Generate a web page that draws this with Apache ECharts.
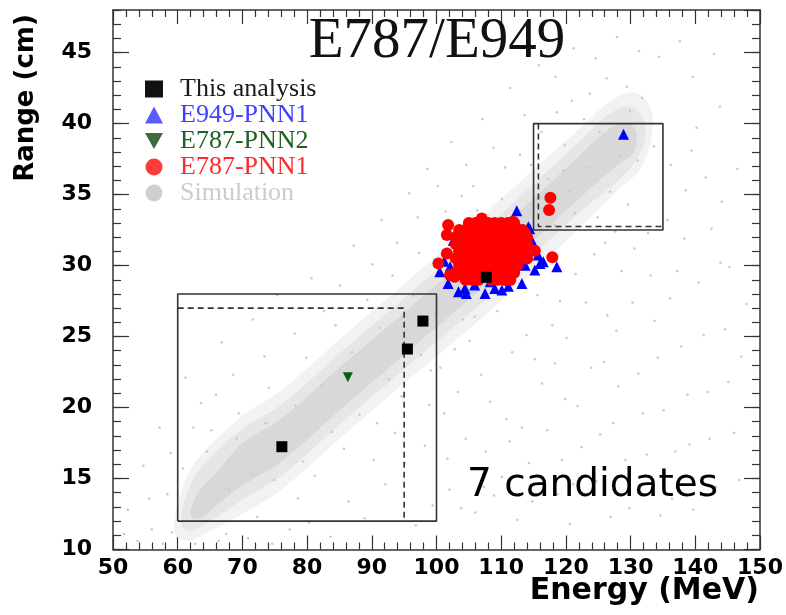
<!DOCTYPE html>
<html>
<head>
<meta charset="utf-8">
<title>E787/E949 Range vs Energy</title>
<script src="https://cdn.jsdelivr.net/npm/echarts@6/dist/echarts.min.js"></script>
<style>
  html, body { margin: 0; padding: 0; background: #fff; }
  #chart { width: 786px; height: 615px; }
</style>
</head>
<body>
<div id="chart"></div>
<script>
  // axis ranges
  var xRange = [50, 150]
  var yRange = [10, 48]

  // candidate events (Energy MeV, Range cm)
  var thisAnalysis = [[76.1, 17.24], [95.5, 24.12], [97.9, 26.09], [107.7, 29.17]]
  var e787pnn2 = [[86.3, 22.13]]
  var e949pnn1 = [
    [128.9, 39.24], [112.4, 33.86], [118.6, 29.92], [116.0, 30.15], [115.7, 30.74],
    [114.7, 31.79], [114.4, 32.6], [100.5, 29.56], [101.8, 28.74], [103.4, 28.16],
    [104.6, 28.04], [107.5, 28.04], [109.0, 28.39], [111.1, 28.55], [102.1, 29.92],
    [113.7, 30.03], [105.9, 28.63], [112.6, 32.85], [114.2, 32.73], [102.6, 31.79],
    [104.4, 28.39], [108.3, 28.86], [115.2, 29.68], [116.5, 30.27], [103.1, 30.85],
    [110.1, 28.27], [113.2, 28.74], [115.0, 31.3], [101.2, 30.3]
  ]
  // outliers around the blob
  var e787pnn1Edge = [
    [117.6, 34.77], [117.4, 33.91], [117.9, 30.58],
    [107.0, 33.32], [101.8, 32.85], [101.6, 32.15], [103.3, 31.61], [101.6, 30.85],
    [100.3, 30.15], [111.8, 33.08], [113.7, 32.26], [115.2, 31.04], [111.4, 28.98],
    [102.8, 29.21], [104.9, 32.38], [109.3, 32.62], [102.1, 29.33], [110.6, 28.98]
  ]
  // densely overlapping core of the blob
  var e787pnn1Core = [
    [105, 33.0], [106, 33.0], [107, 33.0], [108, 33.0], [109, 33.0], [110, 33.0], [111, 33.0], [112, 33.0],
    [103.5, 32.5], [104.5, 32.5], [105.5, 32.5], [106.5, 32.5], [107.5, 32.5], [108.5, 32.5], [109.5, 32.5],
    [110.5, 32.5], [111.5, 32.5], [112.5, 32.5], [113.3, 32.5],
    [103, 32.0], [104, 32.0], [105, 32.0], [106, 32.0], [107, 32.0], [108, 32.0], [109, 32.0], [110, 32.0],
    [111, 32.0], [112, 32.0], [113, 32.0], [114, 32.0],
    [103, 31.5], [104, 31.5], [105, 31.5], [106, 31.5], [107, 31.5], [108, 31.5], [109, 31.5], [110, 31.5],
    [111, 31.5], [112, 31.5], [113, 31.5], [114, 31.5],
    [103.5, 31.0], [104.5, 31.0], [105.5, 31.0], [106.5, 31.0], [107.5, 31.0], [108.5, 31.0], [109.5, 31.0],
    [110.5, 31.0], [111.5, 31.0], [112.5, 31.0], [113.5, 31.0],
    [103, 30.5], [104, 30.5], [105, 30.5], [106, 30.5], [107, 30.5], [108, 30.5], [109, 30.5], [110, 30.5],
    [111, 30.5], [112, 30.5], [113, 30.5], [114, 30.5],
    [103.5, 30.0], [104.5, 30.0], [105.5, 30.0], [106.5, 30.0], [107.5, 30.0], [108.5, 30.0], [109.5, 30.0],
    [110.5, 30.0], [111.5, 30.0], [112.5, 30.0],
    [103, 29.5], [104, 29.5], [105, 29.5], [106, 29.5], [107, 29.5], [108, 29.5], [109, 29.5], [110, 29.5],
    [111, 29.5], [112, 29.5],
    [104.5, 29.0], [105.5, 29.0], [106.5, 29.0], [108.5, 29.0], [109.5, 29.0], [110.5, 29.0]
  ]

  // simulation band outlines (halo, mid, core)
  var simHalo = [[59.5, 11.2], [60.5, 14.0], [63, 16.3], [70, 19.4], [76, 21.2], [86, 25.2], [95, 28.7], [108, 33.9],
    [122, 39.6], [127, 41.6], [130.5, 42.2], [133, 41.2], [133.3, 39.2], [131.5, 36.8], [128, 35.3], [122, 32.6],
    [108, 26.7], [95, 21.7], [86, 18.2], [76, 14.2], [70, 12.5], [65, 11.3], [61.5, 10.6]]
  var simMid = [[60.5, 11.8], [61.8, 14.4], [64, 16.0], [70, 18.5], [76, 20.2], [86, 24.2], [95, 27.7], [108, 32.8],
    [122, 38.7], [126.5, 40.6], [129.8, 41.2], [132, 40.3], [132, 38.5], [129, 36.4], [122, 33.7], [108, 27.8],
    [95, 22.7], [86, 19.2], [76, 15.2], [70, 13.5], [65, 12.0], [62, 11.3]]
  var simCore = [[62, 12.4], [63, 13.9], [66, 15.4], [70, 17.5], [76, 19.2], [86, 23.2], [95, 26.7], [108, 31.8],
    [122, 37.7], [126, 39.4], [129, 40.1], [130.8, 39.5], [130.5, 38.0], [128, 37.1], [122, 34.7], [108, 28.8],
    [95, 23.7], [86, 20.2], [76, 16.2], [70, 14.5], [66, 13.1], [63.5, 12.2]]

  // sparse simulation events
  var simDots = [
    [102, 14.2], [104.5, 17.8], [106, 12.6], [108.3, 20.4], [110.1, 15.1], [111.7, 23.9], [113.2, 18.6], [114.8, 13.4],
    [116.3, 21.7], [117.9, 25.8], [119.4, 16.3], [120.6, 11.8], [121.8, 20.1], [123.1, 27.4], [124.7, 14.8], [125.9, 23.2],
    [127.3, 18.9], [128.6, 29.6], [129.8, 12.9], [131.2, 22.4], [132.5, 16.7], [133.7, 26.1], [135.1, 19.8], [136.4, 13.6],
    [137.8, 24.3], [139.1, 17.4], [140.5, 28.8], [141.9, 21.1], [143.2, 14.4], [144.6, 25.5], [146, 18.2], [103.3, 21.1],
    [105.1, 24.7], [107.6, 16.9], [109.4, 26.8], [112.5, 12.1], [115.6, 27.9], [118.7, 13.9], [120.1, 24.9], [122.4, 17.2],
    [126.4, 26.5], [128.1, 21.5], [130.6, 31.2], [133.1, 29.3], [134.6, 12.4], [138.3, 31.9], [142.5, 32.6], [145.3, 29.9],
    [147.1, 23.6], [101.2, 19.6], [99.4, 13.1], [98.2, 17.3], [100.6, 22.8],
    [56, 11.4], [58.4, 13.9], [60.8, 15.7], [59.1, 11.2], [65.2, 18.4], [67.5, 11.1], [69.4, 19.6], [72.3, 12.3],
    [74.1, 21.4], [78.6, 13.6], [79.9, 23.5], [81.2, 15.2], [84.4, 25.8], [85.7, 17.1], [89.3, 27.6], [90.8, 18.9],
    [93.2, 29.3], [94.6, 20.8], [97.3, 30.9], [99.1, 22.6], [101.4, 33.8], [103.9, 34.9], [105.7, 35.6], [110.6, 36.9],
    [112.9, 37.8], [116.2, 39.4], [118.6, 40.8], [120.9, 41.6], [123.7, 42.1], [126.3, 43.2], [129.4, 42.6], [131.8, 41.8],
    [133.6, 38.4], [136.2, 37.1], [138.5, 35.3], [140.2, 39.7], [135.7, 33.2], [127.6, 32.4], [124.4, 30.8], [121.5, 29.4],
    [119.1, 27.5], [63.6, 20.3], [61.2, 22.1], [66.8, 24.6], [71.6, 26.2], [75.4, 27.9], [80.7, 29.1], [87.2, 31.4],
    [91.5, 33.2], [95.8, 35.1], [98.6, 36.8], [102.3, 38.7], [107.1, 40.3], [111.4, 42.5], [115.8, 44.1], [121.2, 45.3],
    [127.9, 46.1], [134.4, 44.7], [139.6, 43.3], [143.8, 41.2], [146.5, 36.8], [144.1, 34.5], [52.3, 12.8], [54.7, 15.9],
    [57.2, 18.6], [53.8, 10.6], [62.7, 10.4], [70.9, 10.8], [77.3, 11.4], [83.6, 10.9], [88.9, 12.2], [92.1, 14.6],
    [95.1, 16.1], [96.8, 11.7],
    [64.5, 16.9], [67.9, 14.2], [69.1, 17.8], [71.4, 15.3], [73.6, 18.9], [74.9, 14.9], [78.2, 20.1], [79.4, 16.2],
    [82.3, 21.6], [83.8, 18.3], [86.9, 23.9], [88.1, 19.5], [91.2, 25.6], [92.6, 22.0], [96.4, 27.9], [97.6, 23.7],
    [117.3, 36.1], [119.8, 38.5], [121.4, 33.7], [123.6, 36.9], [125.2, 39.4], [126.8, 35.2], [128.3, 37.7], [129.9, 40.9],
    [131.1, 37.4], [120.5, 35.2], [118.2, 32.9], [124.9, 33.4],
    [101.7, 16.4], [103.8, 12.9], [106.9, 22.3], [108.9, 13.8], [110.8, 19.2], [113.9, 25.1], [114.3, 16.1], [117.1, 18.4],
    [118.3, 23.1], [119.9, 20.6], [121.1, 14.6], [123.9, 22.8], [125.3, 18.1], [126.9, 12.3], [127.8, 25.4], [129.2, 16.3],
    [130.3, 27.4], [131.9, 19.6], [133.2, 14.2], [134.2, 23.5], [136.1, 27.7], [136.9, 16.9], [138.8, 20.9], [139.7, 12.8],
    [141.3, 25.1], [142.2, 17.8], [143.9, 30.2], [145.1, 21.8], [146.8, 14.9], [147.9, 27.3], [137.2, 29.6], [132.7, 32.3],
    [139.4, 38.1], [141.6, 36.2], [142.9, 44.9], [137.6, 45.8], [131.3, 45.1], [124.6, 44.6], [118.4, 43.3], [113.6, 40.6],
    [108.8, 38.3], [104.6, 37.1], [100.2, 35.6], [97.1, 33.4], [93.9, 31.6], [90.1, 30.1], [85.1, 28.6], [82.6, 26.8],
    [78.1, 25.2], [73.4, 23.6], [68.6, 22.3], [65.9, 20.9], [62.4, 18.6], [58.9, 16.8], [55.6, 13.6], [51.7, 11.1],
    [57.7, 10.4], [66.3, 10.6], [74.6, 10.4], [80.3, 11.9], [86.4, 13.4], [90.3, 16.3], [93.6, 18.2], [98.9, 20.2],
    [102.8, 24.1], [105.9, 26.4], [107.3, 14.4], [111.3, 17.6], [115.2, 23.4], [116.6, 14.9], [99.8, 26.6], [104.1, 26.2],
    [116.1, 34.8], [119.6, 36.7], [122.8, 40.3], [114.6, 37.1], [110.1, 34.7], [106.3, 33.9], [126.1, 31.6], [129.6, 34.3]
  ]

  // signal boxes
  var pnn2Box = [[60, 12], [100, 12], [100, 28], [60, 28], [60, 12]]
  var pnn2BoxDashed = [[60, 27], [95, 27], [95, 12]]
  var pnn1Box = [[115, 32.5], [135, 32.5], [135, 40], [115, 40], [115, 32.5]]
  var pnn1BoxDashed = [[115.75, 40], [115.75, 32.75], [135, 32.75]]

  var axisColor = '#333'
  var downTriangle = 'path://M0,0L10,0L5,9Z'

  function bandSeries (name, pts, color) {
    return {
      type: 'custom',
      name: name,
      silent: true,
      z: 1,
      data: [pts[0]],
      renderItem: function (params, api) {
        return {
          type: 'polygon',
          shape: { points: pts.map(function (p) { return api.coord(p) }), smooth: 0.35 },
          style: { fill: color }
        }
      }
    }
  }

  function boxSeries (pts, dashed) {
    return {
      type: 'line',
      data: pts,
      symbol: 'none',
      silent: true,
      z: 3,
      lineStyle: { color: axisColor, width: 1.6, type: dashed ? [6, 4] : 'solid' }
    }
  }

  function pointSeries (name, data, symbol, size, color, z) {
    return {
      name: name, type: 'scatter', data: data, symbol: symbol, symbolSize: size,
      itemStyle: { color: color, opacity: 1 }, z: z
    }
  }

  function xAxisDef (pos, showLabel) {
    return {
      type: 'value', position: pos, min: xRange[0], max: xRange[1], interval: 10,
      axisLine: { lineStyle: { color: axisColor, width: 1.5 } },
      axisTick: { inside: true, length: 14, lineStyle: { color: axisColor, width: 1.2 } },
      minorTick: { show: true, splitNumber: 5, length: 7, lineStyle: { color: axisColor, width: 1.2 } },
      axisLabel: {
        show: showLabel, margin: 8, color: '#000',
        fontFamily: 'DejaVu Sans', fontWeight: 'bold', fontSize: 22
      },
      splitLine: { show: false }
    }
  }

  function yAxisDef (pos, interval, tickLen, showLine, showLabel) {
    return {
      type: 'value', position: pos, min: yRange[0], max: yRange[1], interval: interval,
      axisLine: { show: showLine, lineStyle: { color: axisColor, width: 1.5 } },
      axisTick: { inside: true, length: tickLen, lineStyle: { color: axisColor, width: 1.2 } },
      axisLabel: {
        show: showLabel, margin: 21, color: '#000', showMaxLabel: false,
        fontFamily: 'DejaVu Sans', fontWeight: 'bold', fontSize: 22
      },
      splitLine: { show: false }
    }
  }

  var chart = echarts.init(document.getElementById('chart'))
  var option = {
    backgroundColor: '#fff',
    animation: false,
    grid: { left: 113, right: 26, top: 10, bottom: 65.5, containLabel: false },
    xAxis: [xAxisDef('bottom', true), xAxisDef('top', false)],
    yAxis: [
      yAxisDef('left', 5, 16, true, true),
      yAxisDef('right', 5, 16, true, false),
      yAxisDef('left', 1, 8, false, false),
      yAxisDef('right', 1, 8, false, false)
    ],
    legend: {
      orient: 'vertical',
      left: 145,
      top: 76,
      itemWidth: 18,
      itemHeight: 17,
      itemGap: 0,
      padding: 0,
      selectedMode: false,
      textStyle: { fontFamily: 'Liberation Serif', fontSize: 26, lineHeight: 25, padding: [0, 0, 0, 12] },
      data: [
        { name: 'This analysis', icon: 'rect', itemStyle: { color: '#111', opacity: 1 }, textStyle: { color: '#1a1a1a' } },
        { name: 'E949-PNN1', icon: 'triangle', itemStyle: { color: '#5a5aff', opacity: 1 }, textStyle: { color: '#4040ff' } },
        { name: 'E787-PNN2', icon: downTriangle, itemStyle: { color: '#3d6b3d', opacity: 1 }, textStyle: { color: '#235f23' } },
        { name: 'E787-PNN1', icon: 'circle', itemStyle: { color: '#ff3b3b', opacity: 1 }, textStyle: { color: '#ff2a2a' } },
        { name: 'Simulation', icon: 'circle', itemStyle: { color: '#cfcfcf', opacity: 1 }, textStyle: { color: '#cccccc' } }
      ]
    },
    graphic: [
      {
        type: 'text', x: 437, y: 42, z: 10,
        style: { text: 'E787/E949', fill: '#111', font: '57px "Liberation Serif"', textAlign: 'center', textVerticalAlign: 'middle' }
      },
      {
        type: 'text', x: 467, y: 486, z: 10,
        style: { text: '7 candidates', fill: '#000', font: '39px "DejaVu Sans"', textAlign: 'left', textVerticalAlign: 'middle' }
      },
      {
        type: 'text', x: 26, y: 98, rotation: Math.PI / 2, z: 10,
        style: { text: 'Range (cm)', fill: '#000', font: 'bold 26px "DejaVu Sans"', textAlign: 'center', textVerticalAlign: 'middle' }
      },
      {
        type: 'text', x: 759, y: 591, z: 10,
        style: { text: 'Energy (MeV)', fill: '#000', font: 'bold 30px "DejaVu Sans"', textAlign: 'right', textVerticalAlign: 'middle' }
      }
    ],
    series: [
      bandSeries('sim-halo', simHalo, '#f2f2f2'),
      bandSeries('sim-mid', simMid, '#e6e6e6'),
      bandSeries('sim-core', simCore, '#d8d8d8'),
      {
        name: 'Simulation', type: 'scatter', data: simDots, symbol: 'circle', symbolSize: 2.5,
        itemStyle: { color: '#c8c8c8', opacity: 1 }, silent: true, z: 2
      },
      boxSeries(pnn2Box, false),
      boxSeries(pnn2BoxDashed, true),
      boxSeries(pnn1Box, false),
      boxSeries(pnn1BoxDashed, true),
      pointSeries('E949-PNN1', e949pnn1, 'triangle', 11, '#0000ff', 4),
      pointSeries('E787-PNN1', e787pnn1Edge, 'circle', 12, '#ff0000', 5),
      pointSeries('E787-PNN1', e787pnn1Core, 'circle', 12, '#ff0000', 5),
      pointSeries('E787-PNN2', e787pnn2, downTriangle, 10, '#0b5d0b', 6),
      pointSeries('This analysis', thisAnalysis, 'rect', 11, '#000', 7)
    ]
  }
  chart.setOption(option)
  window.addEventListener('resize', function () {
    chart.resize()
  })
</script>
</body>
</html>
